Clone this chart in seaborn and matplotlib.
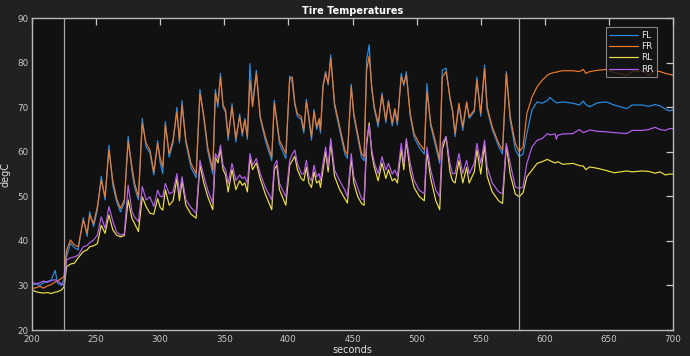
import numpy as np
import pandas as pd
import matplotlib
matplotlib.use('Agg')
import matplotlib.pyplot as plt
import seaborn as sns

# knot times (s) shared by all four tires
t = [200, 203, 206, 209, 212, 215, 218, 220, 223, 225, 227, 230, 233, 236, 240, 243, 245, 248, 251, 254,
     257, 260, 263, 266, 269, 272, 275, 278, 280, 283, 286, 289, 292, 295, 298, 300, 302, 304, 307, 310,
     313, 315, 317, 320, 324, 328, 331, 334, 337, 341, 343, 345, 347, 349, 351, 353, 356, 359, 362, 364,
     366, 368, 370, 372, 375, 378, 382, 387, 389, 391, 393, 398, 401, 403, 405, 407, 410, 412, 414, 416,
     418, 420, 422, 424, 425, 427, 429, 431, 433, 436, 440, 444, 446, 449, 451, 454, 457, 459, 461, 463,
     465, 467, 470, 473, 476, 478, 481, 483, 485, 488, 490, 492, 495, 498, 502, 506, 508, 511, 515, 518,
     520, 523, 526, 528, 530, 533, 536, 539, 541, 545, 547, 550, 553, 555, 559, 564, 567, 570, 573, 577,
     580, 583, 586, 590, 594, 598, 602, 604, 608, 609, 610, 614, 622, 627, 630, 632, 635, 641, 648, 654,
     664, 668, 676, 681, 686, 690, 694, 697, 700]

fl = [30.1, 30.4, 30.0, 30.6, 30.9, 31.2, 33.4, 30.5, 30.0, 31.5, 36.5, 39.5, 38.5, 38.0, 45.2, 41.0, 46.5, 43.2, 47.0, 54.5,
      49.2, 61.5, 52.5, 48.8, 46.5, 48.5, 63.5, 55.5, 52.0, 49.2, 67.5, 61.0, 59.8, 54.8, 62.5, 57.5, 55.1, 66.8, 58.8, 62.0,
      70.0, 62.0, 71.5, 62.0, 56.5, 54.2, 74.0, 67.5, 60.3, 55.0, 74.0, 70.0, 77.6, 70.0, 68.8, 62.6, 70.8, 62.2, 68.5, 63.5,
      67.5, 62.8, 79.8, 70.5, 78.3, 67.5, 62.5, 58.0, 71.6, 66.5, 61.8, 58.5, 77.0, 75.5, 70.5, 68.0, 67.2, 64.2, 71.8, 67.2,
      62.6, 69.5, 65.0, 67.0, 64.2, 75.0, 78.0, 75.0, 81.8, 70.2, 64.8, 59.5, 58.5, 75.2, 68.0, 63.3, 58.8, 58.0, 80.6, 84.0,
      74.0, 69.5, 65.6, 73.2, 66.5, 71.6, 65.8, 69.2, 66.0, 77.6, 74.8, 78.0, 68.0, 63.3, 61.0, 59.5, 75.3, 65.8, 61.0, 57.4,
      78.3, 78.8, 71.8, 69.0, 63.4, 70.5, 64.8, 71.0, 67.5, 69.0, 76.8, 68.0, 79.5, 69.5, 65.0, 61.2, 59.5, 78.0, 67.0, 60.5,
      58.9, 59.5, 64.1, 69.4, 71.2, 70.9, 71.5, 72.2, 71.2, 71.0, 71.0, 71.2, 70.9, 70.5, 71.4, 70.6, 70.1, 71.0, 71.2, 70.5,
      69.7, 70.5, 70.5, 70.2, 70.6, 70.3, 69.6, 69.2, 69.4]

fr = [29.3, 29.5, 29.8, 29.4, 29.9, 30.2, 30.8, 31.0, 31.6, 32.0, 37.9, 40.2, 39.1, 38.7, 44.7, 41.7, 45.8, 43.9, 47.7, 53.6,
      49.9, 60.4, 53.5, 49.5, 47.3, 49.2, 62.3, 56.5, 53.0, 49.9, 66.4, 61.9, 60.4, 55.5, 61.9, 58.5, 56.6, 66.0, 59.6, 62.6,
      69.0, 62.6, 70.5, 62.6, 57.4, 55.1, 73.1, 68.2, 61.1, 55.9, 73.1, 70.9, 76.8, 70.5, 69.4, 63.4, 70.1, 63.0, 67.9, 64.1,
      67.1, 63.4, 76.1, 70.1, 77.6, 67.9, 63.4, 58.9, 70.9, 67.0, 62.6, 59.6, 76.5, 76.8, 70.9, 68.5, 67.9, 64.9, 71.2, 67.9,
      63.4, 69.0, 65.6, 67.5, 64.9, 74.6, 77.6, 75.3, 81.0, 70.9, 65.6, 60.4, 59.3, 74.6, 68.6, 64.1, 59.6, 58.9, 78.3, 81.5,
      74.6, 70.1, 66.4, 72.7, 67.1, 71.2, 66.4, 69.7, 66.7, 76.8, 75.3, 77.2, 68.6, 64.1, 61.9, 60.4, 73.5, 66.4, 61.9, 58.1,
      76.8, 78.0, 72.3, 69.4, 64.1, 70.9, 65.6, 71.2, 67.9, 69.4, 76.1, 68.6, 78.7, 70.1, 65.6, 61.9, 60.4, 77.6, 67.9, 61.9,
      60.0, 61.1, 68.6, 72.3, 74.6, 76.1, 77.2, 77.5, 77.9, 77.8, 78.0, 78.2, 78.2, 78.0, 78.5, 77.6, 78.0, 78.3, 78.5, 77.8,
      77.2, 78.0, 78.2, 77.2, 78.2, 78.0, 77.6, 77.4, 77.2]

rl = [29.0, 28.6, 28.4, 28.3, 28.4, 28.2, 28.5, 28.6, 29.0, 29.7, 34.2, 34.8, 35.0, 36.2, 37.6, 38.0, 38.7, 38.9, 39.4, 43.5,
      41.7, 45.8, 42.5, 41.3, 40.9, 41.2, 49.2, 45.0, 43.9, 42.1, 49.9, 47.7, 46.2, 46.0, 49.5, 47.5, 46.9, 51.5, 48.0, 49.0,
      54.0, 49.0, 53.5, 48.0, 46.0, 45.1, 57.0, 53.0, 50.0, 47.0, 58.8, 57.5, 60.5, 56.0, 54.8, 51.0, 56.0, 51.5, 53.5, 52.5,
      53.0, 51.0, 58.5, 56.0, 57.5, 54.0, 50.5, 47.0, 56.0, 57.0, 51.5, 48.0, 57.0, 58.0, 59.0, 56.0, 54.0, 53.5, 56.5, 53.0,
      52.0, 55.5, 53.0, 53.5, 52.0, 56.0, 60.0, 55.5, 62.0, 54.5, 51.5, 49.5, 48.5, 58.5, 53.0, 50.0, 48.4, 48.0, 61.5, 66.5,
      59.5, 56.5, 53.5, 57.5, 54.0, 56.0, 53.5, 54.0, 53.0, 60.5, 56.0, 62.5, 55.5, 52.0, 50.0, 49.0, 60.0, 54.0, 49.0, 47.0,
      60.5, 63.4, 55.5, 53.5, 53.0, 58.0, 53.0, 56.5, 53.0, 55.5, 60.5, 55.0, 61.5, 54.5, 51.0, 49.0, 48.4, 61.5, 55.0, 50.5,
      49.9, 50.8, 54.4, 55.9, 57.4, 57.8, 58.3, 58.0, 57.5, 57.6, 57.8, 57.2, 57.4, 56.9, 56.8, 56.0, 56.6, 56.3, 55.8, 55.3,
      55.7, 55.5, 55.7, 55.6, 55.2, 55.5, 54.8, 55.0, 55.0]

rr = [30.8, 30.3, 30.6, 31.0, 30.7, 31.1, 31.3, 30.9, 30.4, 30.1, 35.7, 36.2, 36.4, 36.8, 38.7, 39.0, 39.6, 40.2, 41.3, 45.4,
      42.8, 47.7, 44.5, 42.0, 41.3, 41.6, 52.5, 46.5, 45.4, 44.3, 52.2, 49.2, 49.9, 47.7, 51.4, 50.0, 49.9, 52.9, 50.6, 51.0,
      55.1, 50.6, 54.4, 49.2, 47.5, 46.2, 58.1, 54.5, 51.5, 48.4, 59.6, 58.5, 61.5, 57.0, 55.9, 52.9, 57.4, 53.6, 54.8, 54.0,
      54.4, 52.9, 59.6, 57.0, 58.5, 55.1, 52.0, 49.2, 57.0, 58.1, 52.9, 49.9, 58.1, 59.5, 60.4, 57.4, 55.1, 55.0, 58.1, 54.4,
      53.5, 57.0, 54.4, 55.1, 53.5, 57.5, 61.1, 56.6, 63.0, 55.9, 53.5, 51.4, 49.9, 59.6, 54.4, 52.0, 49.5, 49.2, 62.6, 66.0,
      60.4, 57.5, 55.1, 58.9, 55.9, 57.4, 55.0, 55.9, 54.5, 61.9, 57.4, 63.0, 57.4, 53.6, 51.4, 50.6, 61.1, 55.9, 51.4, 49.9,
      61.9, 63.4, 57.4, 55.1, 55.1, 59.6, 55.1, 58.1, 55.1, 57.4, 61.9, 57.4, 62.6, 56.6, 53.0, 51.0, 50.6, 61.9, 57.4, 52.1,
      51.8, 52.1, 57.4, 61.1, 62.6, 63.0, 64.1, 63.8, 64.0, 62.8, 63.7, 64.0, 64.1, 65.0, 64.3, 64.5, 64.9, 64.6, 64.5, 64.3,
      64.1, 64.8, 64.8, 65.0, 65.5, 65.0, 64.8, 65.2, 65.2]

labels = ['FL', 'FR', 'RL', 'RR']
colors = ['#2b8ee6', '#f07a2a', '#f0e048', '#b860f0']
markers_x = [225, 580]

df = pd.DataFrame({'seconds': t, 'FL': fl, 'FR': fr, 'RL': rl, 'RR': rr})
long = df.melt(id_vars='seconds', var_name='tire', value_name='degC')

sns.set_style('dark', {'axes.facecolor': '#111111', 'figure.facecolor': '#212121'})
plt.rcParams['font.family'] = ['DejaVu Sans']

fig = plt.figure(figsize=(6.9, 3.56), dpi=100)
ax = fig.add_axes([0.0464, 0.073, 0.929, 0.876])

sns.lineplot(data=long, x='seconds', y='degC', hue='tire', hue_order=labels,
             palette=colors, estimator=None, linewidth=0.85, ax=ax)

for xv in markers_x:
    ax.axvline(xv, color='#a8a8a8', lw=0.9, zorder=5)

ax.set_xlim(200, 700)
ax.set_ylim(20, 90)
ax.set_xticks(range(200, 701, 50))
ax.set_yticks(range(20, 91, 10))
ax.tick_params(direction='in', length=5, width=0.9, colors='#c8c8c8',
               labelsize=6.3, top=True, right=True)
ax.tick_params(axis='x', pad=3.5)
ax.tick_params(axis='y', pad=2.5)
for sp in ax.spines.values():
    sp.set_color('#b8b8b8')
    sp.set_linewidth(1.0)
ax.set_xlabel('seconds', color='#e0e0e0', fontsize=7, labelpad=0.5)
ax.set_ylabel('degC', color='#e0e0e0', fontsize=7, labelpad=5)
ax.set_title('Tire Temperatures', color='white', fontsize=7, fontweight='bold', pad=3)

leg = ax.legend(loc='upper right', fontsize=6.5, frameon=True, fancybox=False,
                handlelength=3.2, handletextpad=0.3, borderpad=0.4, labelspacing=0.25,
                bbox_to_anchor=(0.982, 0.985))
leg.get_frame().set_facecolor('#151515')
leg.get_frame().set_edgecolor('#a0a0a0')
leg.get_frame().set_linewidth(0.8)
for txt in leg.get_texts():
    txt.set_color('#e8e8e8')

fig.savefig('out.png', dpi=100, facecolor=fig.get_facecolor())
